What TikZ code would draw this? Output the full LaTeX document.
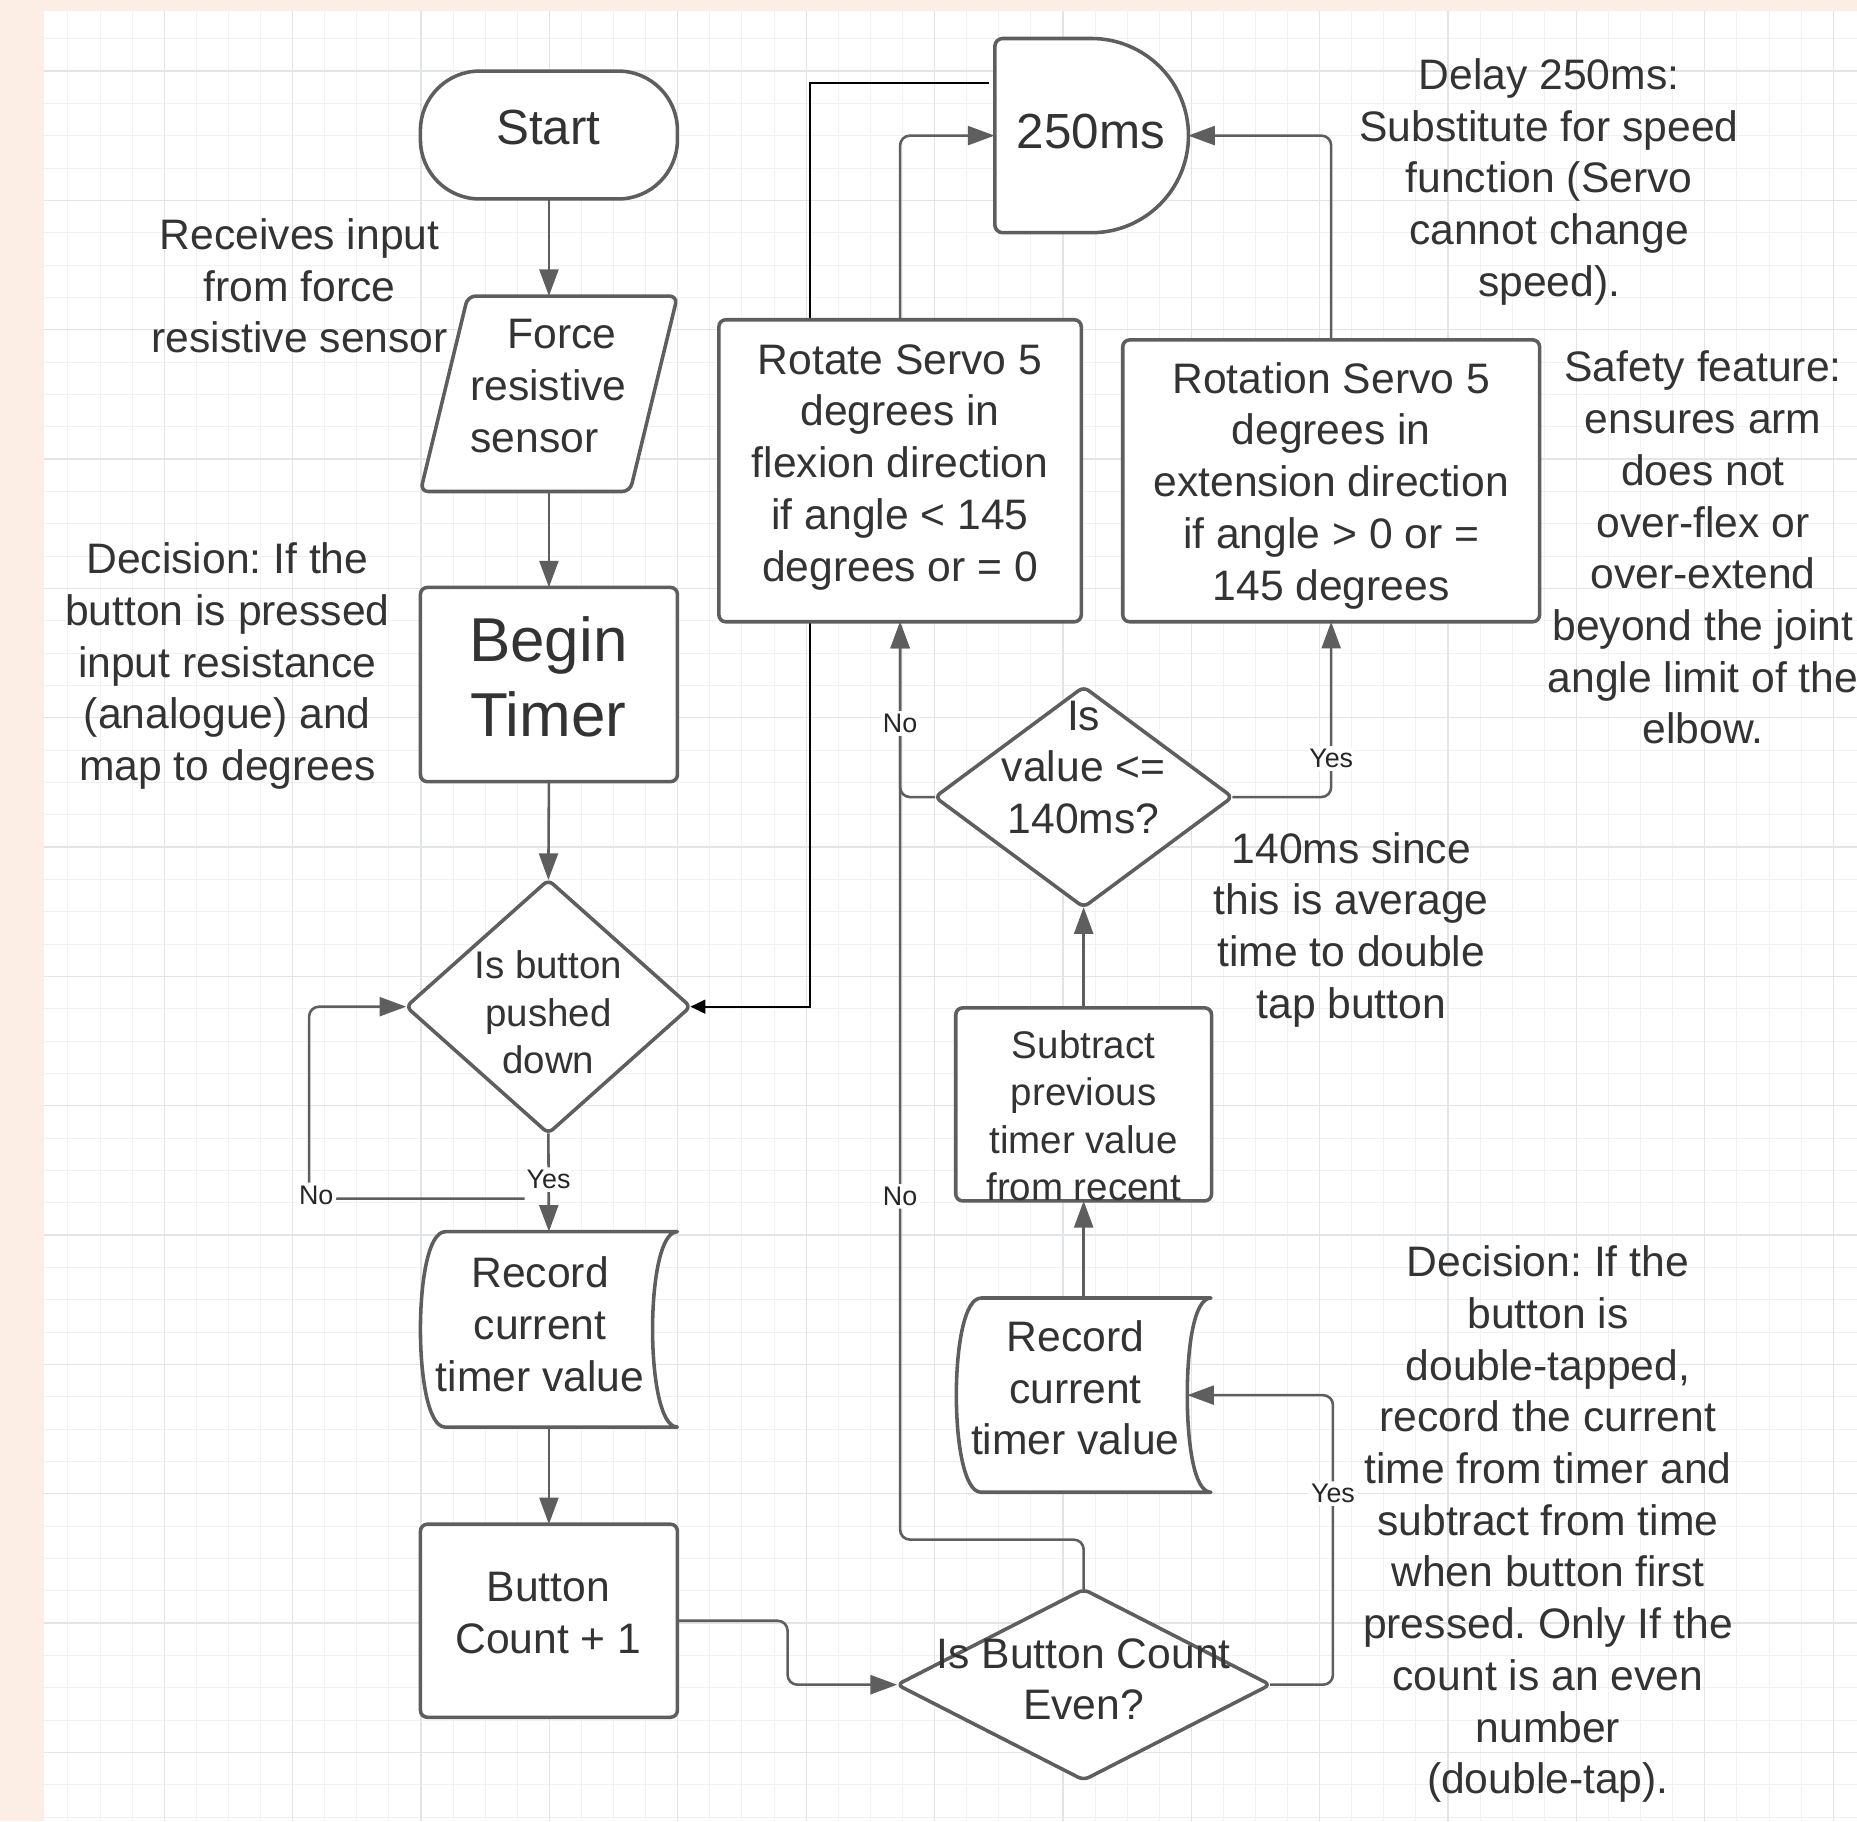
\documentclass[tikz,border=0pt]{standalone}
\usepackage{fontspec}
\setmainfont{Liberation Sans}
\usepackage{xcolor}
\usepackage{tikz}
\usetikzlibrary{arrows.meta, calc, shapes.geometric}
\definecolor{paperPeach}{RGB}{252,237,229}
\definecolor{gridMinor}{RGB}{239,241,243}
\definecolor{gridMajor}{RGB}{226,229,232}
\definecolor{lineGray}{RGB}{94,94,94}
\definecolor{inkGray}{RGB}{51,51,51}
\pgfdeclarelayer{grid}
\pgfdeclarelayer{behind}
\pgfsetlayers{grid,behind,main}
\frenchspacing

\begin{document}
\begin{tikzpicture}[x=0.6pt, y=-0.6pt, line join=round,
		boxline/.style={draw=lineGray, fill=white, line width=1.8pt},
		proc/.style={boxline, rectangle, rounded corners=3.5pt, inner sep=0pt, outer sep=0pt},
		decide/.style={boxline, diamond, rounded corners=3pt, inner sep=0pt, outer sep=0pt},
		holder/.style={rectangle, inner sep=0pt, outer sep=0pt},
		txt/.style={align=center, text=inkGray, inner sep=0pt, font=\fontsize{21.6}{26.2}\selectfont},
		txtsmall/.style={txt, font=\fontsize{19.5}{24}\selectfont},
		flow/.style={draw=lineGray, line width=1.3pt, rounded corners=5pt, -{Triangle[length=13.5pt, width=9.6pt]}},
		lbl/.style={fill=white, text=black!85, inner sep=1.5pt, font=\fontsize{13.6}{16}\selectfont}]
	\useasboundingbox (0,0) rectangle (1568,1538);
	% paper and grid
	\begin{pgfonlayer}{grid}
		\fill[paperPeach] (0,0) rectangle (1568,1538);
		\fill[white] (37,9) rectangle (1568,1538);
		\foreach \gx in {57.4,84.5,...,1568} \draw[gridMinor, line width=0.5pt] (\gx,9) -- (\gx,1538);
		\foreach \gy in {32.7,60,...,1538} \draw[gridMinor, line width=0.5pt] (37,\gy) -- (1568,\gy);
		\foreach \gx in {138.7,247.1,...,1568} \draw[gridMajor, line width=0.6pt] (\gx,9) -- (\gx,1538);
		\foreach \gy in {60,169.2,...,1538} \draw[gridMajor, line width=0.6pt] (37,\gy) -- (1568,\gy);
	\end{pgfonlayer}

	% left column
	\node[proc, minimum width=130.2pt, minimum height=64.8pt, rounded corners=30pt] (start) at (463.5,114) {};
	\node[txt, font=\fontsize{25}{30}\selectfont] (startT) at (463,108) {Start};
	\node[holder, minimum width=130.2pt, minimum height=99pt] (frs) at (463.5,332.5) {};
	\draw[boxline, rounded corners=4pt, shift={(frs.center)}] (-68.5,-82.5) -- (108.5,-82.5) -- (68.5,82.5) -- (-108.5,82.5) -- cycle;
	\node[txt] (frsT) at (463,326) {\hspace*{14pt}Force\\resistive\\sensor\hspace*{14pt}};
	\node[proc, minimum width=130.2pt, minimum height=98.4pt] (timer) at (463.5,578) {};
	\node[txt, font=\fontsize{31.4}{37.8}\selectfont] (timerT) at (463,571.5) {Begin\\Timer};
	\node[decide, minimum width=144pt, minimum height=128.4pt] (push) at (463,850) {};
	\node[txtsmall] (pushT) at (463,855) {Is button\\pushed\\down};
	\node[holder, minimum width=130.2pt, minimum height=99pt] (rec1) at (463.5,1122.5) {};
	\draw[boxline, shift={(rec1.center)}] (108.5,-82.5) -- (-87.5,-82.5) .. controls (-102,-82.5) and (-108.5,-40) .. (-108.5,0) .. controls (-108.5,40) and (-102,82.5) .. (-87.5,82.5) -- (108.5,82.5) .. controls (94,82.5) and (87.5,40) .. (87.5,0) .. controls (87.5,-40) and (94,-82.5) .. (108.5,-82.5) -- cycle;
	\node[txt] (rec1T) at (456,1118) {Record\\current\\timer value};
	\node[proc, minimum width=130.2pt, minimum height=97.8pt] (count) at (463.5,1368.5) {};
	\node[txt] (countT) at (463,1362) {Button\\Count + 1};

	% middle column
	\node[decide, minimum width=189pt, minimum height=96.6pt] (even) at (915,1422.5) {};
	\node[txt] (evenT) at (915,1418) {Is Button Count\\Even?};
	\node[holder, minimum width=129pt, minimum height=98.4pt] (rec2) at (915,1178) {};
	\draw[boxline, shift={(rec2.center)}] (107.5,-82) -- (-86.5,-82) .. controls (-101,-82) and (-107.5,-40) .. (-107.5,0) .. controls (-107.5,40) and (-101,82) .. (-86.5,82) -- (107.5,82) .. controls (93,82) and (87.5,40) .. (87.5,0) .. controls (87.5,-40) and (93,-82) .. (107.5,-82) -- cycle;
	\coordinate (rec2in) at ($(rec2.center)+(87.5,0)$);
	\node[txt] (rec2T) at (908,1172) {Record\\current\\timer value};
	\node[proc, minimum width=129.6pt, minimum height=97.8pt] (sub) at (915,932.5) {};
	\node[txtsmall] (subT) at (915,942) {Subtract\\previous\\timer value\\from recent};
	\node[decide, minimum width=150.6pt, minimum height=111.6pt] (val) at (915,673) {};
	\node[txt] (valT) at (915,648) {Is\\value <=\\140ms?};
	\node[proc, minimum width=183.6pt, minimum height=153pt] (flex) at (760,397.5) {};
	\node[txt] (flexT) at (760,394.5) {Rotate Servo 5\\degrees in\\flexion direction\\if angle < 145\\degrees or = 0};
	\node[proc, minimum width=211.2pt, minimum height=142.8pt] (ext) at (1124,406) {};
	\node[txt] (extT) at (1124,410) {Rotation Servo 5\\degrees in\\extension direction\\if angle > 0 or =\\145 degrees};
	\node[holder, minimum width=98.1pt, minimum height=98.4pt] (delay) at (921.5,114.5) {};
	\draw[boxline, shift={(delay.center)}] (0,-82) [rounded corners=4pt] -- (-81.5,-82) -- (-81.5,82) [sharp corners] -- (0,82) arc[start angle=-90, end angle=90, radius=49.2pt] -- cycle;
	\node[txt, font=\fontsize{25}{30}\selectfont] (delayT) at (921,111) {250ms};

	% notes
	\node[txt] (recvNote) at (253,241.5) {Receives input\\from force\\resistive sensor};
	\node[txt] (pressNote) at (192,562.5) {Decision: If the\\button is pressed\\input resistance\\(analogue) and\\map to degrees};
	\node[txt] (delayNote) at (1308,153.5) {Delay 250ms:\\Substitute for speed\\function (Servo\\cannot change\\speed).};
	\node[txt] (safetyNote) at (1438,462.5) {Safety feature:\\ensures arm\\does not\\over-flex or\\over-extend\\beyond the joint\\angle limit of the\\elbow.};
	\node[txt] (tapNote) at (1141,785) {140ms since\\this is average\\time to double\\tap button};
	\node[txt] (doubleNote) at (1307,1287) {Decision: If the\\button is\\double-tapped,\\record the current\\time from timer and\\subtract from time\\when button first\\pressed. Only If the\\count is an even\\number\\(double-tap).};

	% connectors
	\draw[flow] (start.south) -- (frs.north);
	\draw[flow] (frs.south) -- (timer.north);
	\draw[flow] (timer.south) -- (push.north);
	\draw[flow] (push.south) -- node[lbl, pos=0.47] {Yes} (rec1.north);
	\coordinate (noStart) at (443,1012);
	\draw[flow] (noStart) -- (261,1012) node[lbl, xshift=3.6pt, yshift=1.8pt] {No} |- (push.west);
	\draw[flow] (rec1.south) -- (count.north);
	\draw[flow] (count.east) -- ++(93,0) |- (even.west);
	\draw[flow] (even.north) -- ++(0,-42) -| node[lbl, pos=0.687] {No} (flex.south);
	\draw[flow] (val.west) -| node[lbl, pos=0.71] {No} (flex.south);
	\draw[flow] (val.east) -| node[lbl, pos=0.61] {Yes} (ext.south);
	\draw[flow] (even.east) -- ++(53,0) |- node[lbl, pos=0.33] {Yes} (rec2in);
	\draw[flow] (rec2.north) -- (sub.south);
	\draw[flow] (sub.north) -- (val.south);
	\draw[flow] (flex.north) |- (delay.west);
	\draw[flow] (ext.north) |- (delay.east);
	\coordinate (blkStart) at (835,70);
	\begin{pgfonlayer}{behind}
		\draw[black, line width=1pt, -{Triangle[length=7.5pt, width=7pt]}] (blkStart) -- (684,70) |- (push.east);
	\end{pgfonlayer}
\end{tikzpicture}
\end{document}
